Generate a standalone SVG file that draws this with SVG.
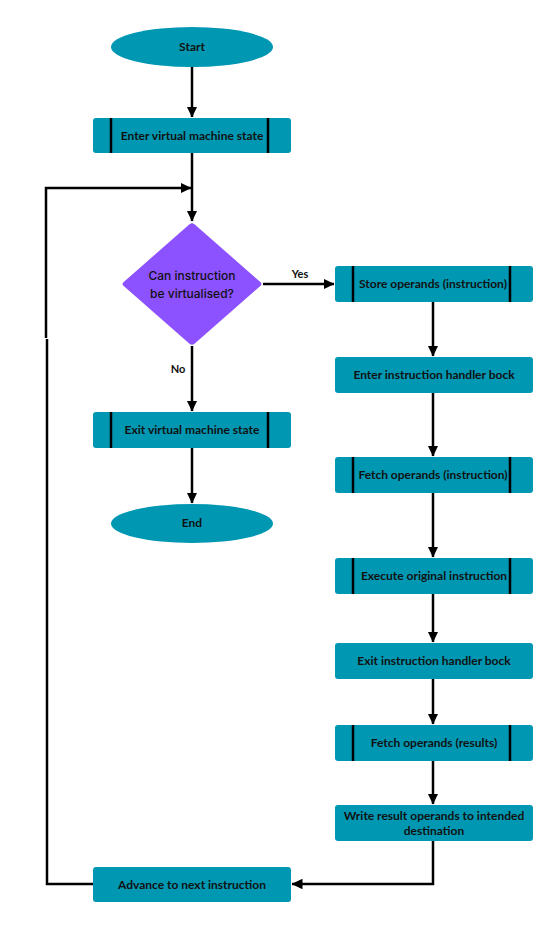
<svg xmlns="http://www.w3.org/2000/svg" width="556" height="932" viewBox="0 0 556 932">
<defs>
<style>
.box{fill:#0097B2;}
.bar{stroke:#000;stroke-width:2.5;}
.t{font-family:Lato,"Open Sans",sans-serif;font-weight:700;font-size:12px;fill:#111;text-anchor:middle;}
.dt{font-family:Inter,"Noto Sans",sans-serif;font-weight:500;font-size:12px;fill:#111;text-anchor:middle;}
.c{stroke:#000;stroke-width:2.5;fill:none;}
.ca{stroke:#000;stroke-width:2.5;fill:none;marker-end:url(#ah);}
.lbl{font-family:Lato,"Open Sans",sans-serif;font-weight:700;font-size:11px;fill:#111;text-anchor:middle;}
</style>
<marker id="ah" markerWidth="5" markerHeight="5" refX="4.2" refY="2.5" orient="auto" markerUnits="strokeWidth">
<path d="M0,0.4 L4.4,2.5 L0,4.6 Z" fill="#000"/>
</marker>
</defs>
<rect width="556" height="932" fill="#fff"/>
<g id="connectors">
<line class="ca" x1="192" y1="67" x2="192" y2="117"/>
<line class="ca" x1="192" y1="153" x2="192" y2="221"/>
<polyline class="ca" points="46,338 46,188 191,188"/>
<polyline class="c" points="47,339 47,884 93,884"/>
<line class="ca" x1="263" y1="284" x2="334" y2="284"/>
<text class="lbl" x="300" y="278">Yes</text>
<line class="ca" x1="192" y1="346" x2="192" y2="411"/>
<text class="lbl" x="178" y="373">No</text>
<line class="ca" x1="192" y1="448" x2="192" y2="503"/>
<line class="ca" x1="433" y1="302" x2="433" y2="356"/>
<line class="ca" x1="433" y1="393" x2="433" y2="456"/>
<line class="ca" x1="433" y1="493" x2="433" y2="557"/>
<line class="ca" x1="433" y1="594" x2="433" y2="642"/>
<line class="ca" x1="433" y1="679" x2="433" y2="724"/>
<line class="ca" x1="433" y1="761" x2="433" y2="804"/>
<polyline class="ca" points="433,841 433,884 292,884"/>
</g>
<g id="start">
<ellipse class="box" cx="192" cy="47" rx="81" ry="20"/>
<text class="t" x="192" y="51">Start</text>
</g>
<g id="enter-vm">
<rect class="box" x="93" y="118" width="198" height="35" rx="3"/>
<line class="bar" x1="111" y1="118" x2="111" y2="153"/>
<line class="bar" x1="268" y1="118" x2="268" y2="153"/>
<text class="t" x="192" y="140">Enter virtual machine state</text>
</g>
<g id="decision">
<path d="M189.5,224.3 Q192,222 194.5,224.3 L260,281.7 Q263,284 260,286.3 L194.5,343.7 Q192,346 189.5,343.7 L124,286.3 Q121,284 124,281.7 Z" fill="#8C52FF"/>
<text class="dt" x="192" y="280">Can instruction</text>
<text class="dt" x="192" y="298">be virtualised?</text>
</g>
<g id="exit-vm">
<rect class="box" x="93" y="412" width="198" height="36" rx="3"/>
<line class="bar" x1="111" y1="412" x2="111" y2="448"/>
<line class="bar" x1="268" y1="412" x2="268" y2="448"/>
<text class="t" x="192" y="434">Exit virtual machine state</text>
</g>
<g id="end">
<ellipse class="box" cx="192" cy="523.5" rx="81" ry="19.5"/>
<text class="t" x="192" y="527">End</text>
</g>
<g id="store-operands">
<rect class="box" x="335" y="266" width="198" height="36" rx="3"/>
<line class="bar" x1="353" y1="266" x2="353" y2="302"/>
<line class="bar" x1="510" y1="266" x2="510" y2="302"/>
<text class="t" x="433" y="288">Store operands (instruction)</text>
</g>
<g id="enter-handler">
<rect class="box" x="335" y="357" width="198" height="36" rx="3"/>
<text class="t" x="434" y="379">Enter instruction handler bock</text>
</g>
<g id="fetch-instruction">
<rect class="box" x="335" y="457" width="198" height="36" rx="3"/>
<line class="bar" x1="353" y1="457" x2="353" y2="493"/>
<line class="bar" x1="510" y1="457" x2="510" y2="493"/>
<text class="t" x="433" y="479">Fetch operands (instruction)</text>
</g>
<g id="execute">
<rect class="box" x="335" y="558" width="198" height="36" rx="3"/>
<line class="bar" x1="353" y1="558" x2="353" y2="594"/>
<line class="bar" x1="510" y1="558" x2="510" y2="594"/>
<text class="t" x="434" y="580">Execute original instruction</text>
</g>
<g id="exit-handler">
<rect class="box" x="335" y="643" width="198" height="36" rx="3"/>
<text class="t" x="434" y="665">Exit instruction handler bock</text>
</g>
<g id="fetch-results">
<rect class="box" x="335" y="725" width="198" height="36" rx="3"/>
<line class="bar" x1="353" y1="725" x2="353" y2="761"/>
<line class="bar" x1="510" y1="725" x2="510" y2="761"/>
<text class="t" x="434" y="747">Fetch operands (results)</text>
</g>
<g id="write-result">
<rect class="box" x="335" y="805" width="198" height="36" rx="3"/>
<text class="t" x="434" y="820">Write result operands to intended</text>
<text class="t" x="434" y="835">destination</text>
</g>
<g id="advance">
<rect class="box" x="93" y="867" width="198" height="35" rx="3"/>
<text class="t" x="192" y="889">Advance to next instruction</text>
</g>
</svg>
